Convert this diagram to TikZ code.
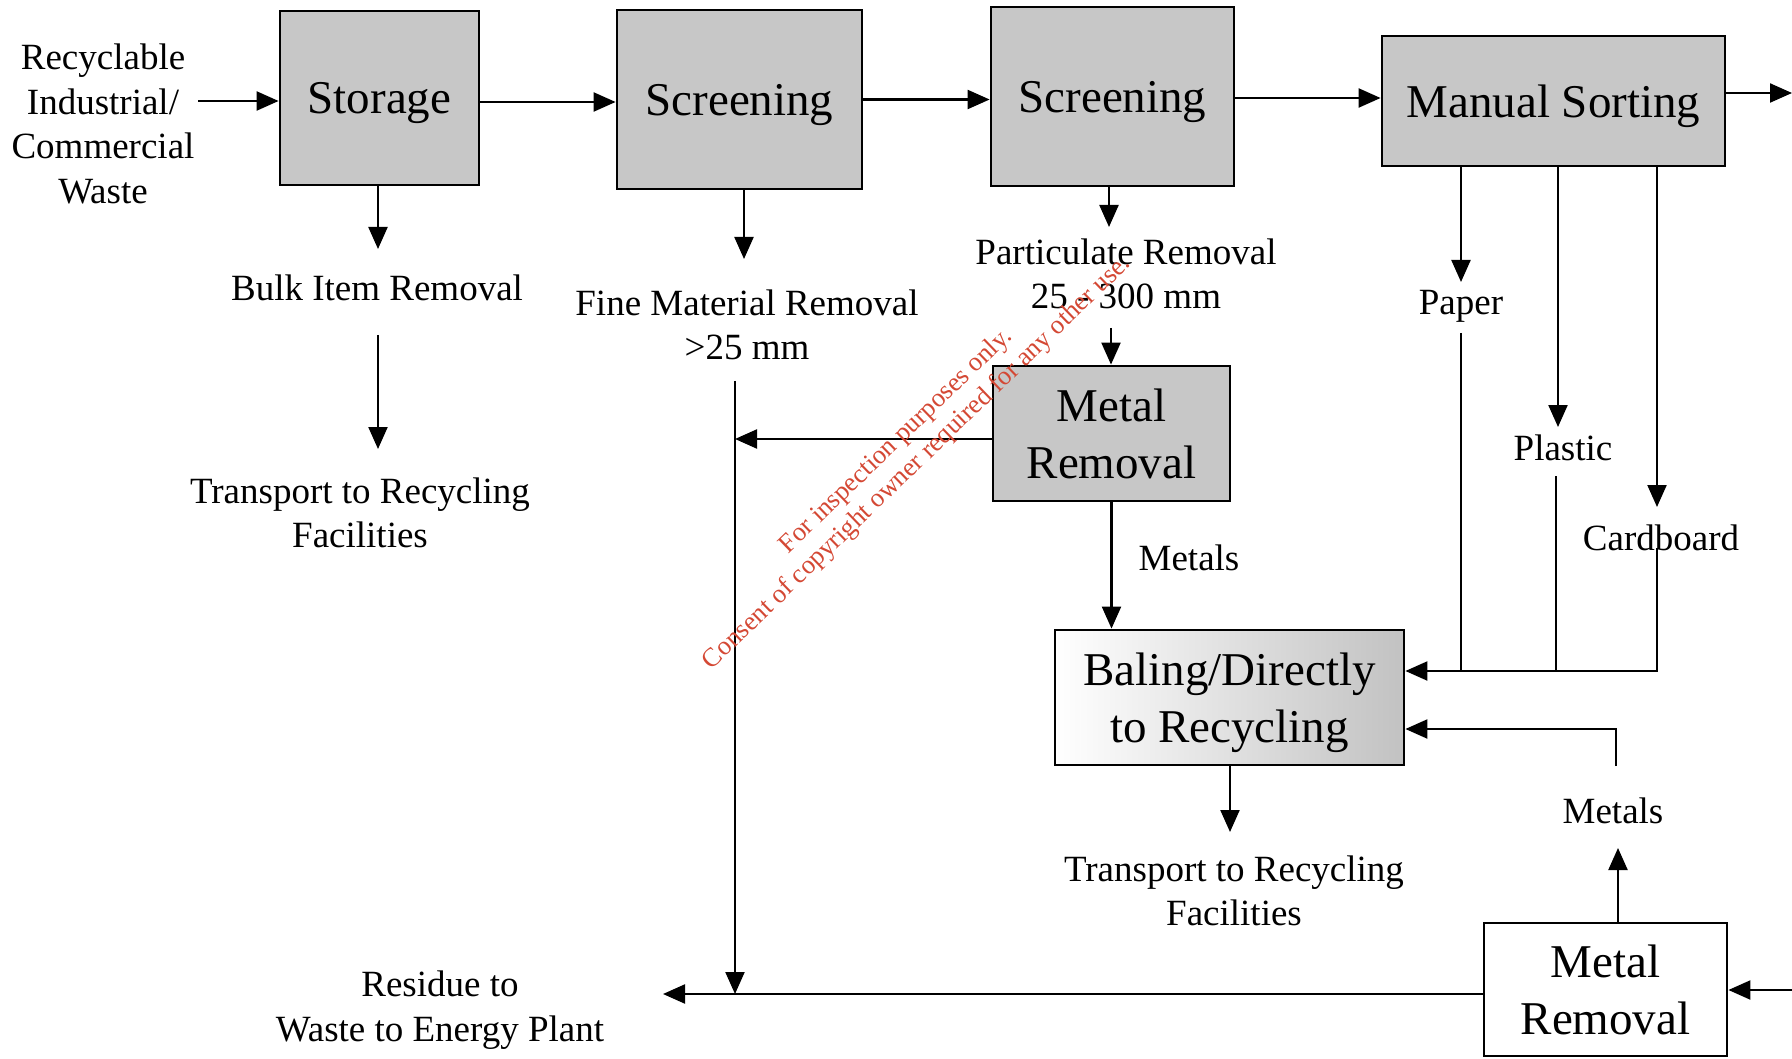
\documentclass[tikz,border=0pt]{standalone}
\usepackage{fontspec}
\setmainfont{Liberation Serif}
\usetikzlibrary{arrows.meta}
\definecolor{wm}{RGB}{212,72,52}
\begin{document}
\begin{tikzpicture}[x=1pt,y=-1pt,
  box/.style={draw,line width=2.8pt,fill=black!22,align=center,inner sep=0pt,text depth=0pt,font=\fontsize{47}{57}\selectfont},
  lbl/.style={align=center,inner sep=0pt,font=\fontsize{37}{44.5}\selectfont},
  arr/.style={line width=2.2pt,-{Triangle[length=22pt,width=19pt]}},
  ln/.style={line width=2.2pt}]
\useasboundingbox (0,0) rectangle (1792,1059);
% boxes
\node[box,minimum width=199pt,minimum height=174pt] (sto) at (379.5,98) {Storage};
\node[box,minimum width=245pt,minimum height=179pt] (scr1) at (739.5,99.5) {Screening};
\node[box,minimum width=243pt,minimum height=179pt] (scr2) at (1112.5,96.5) {Screening};
\node[box,minimum width=343pt,minimum height=130pt] (ms) at (1553.5,101) {Manual Sorting};
\node[box,minimum width=237pt,minimum height=135pt] (mr1) at (1111.5,433.5) {Metal\\Removal};
\node[box,fill=none,left color=white,middle color=white,right color=black!24,minimum width=349pt,minimum height=135pt] (bal) at (1229.5,697.5) {Baling/Directly\\to Recycling};
\node[box,fill=white,minimum width=243pt,minimum height=133pt] (mr2) at (1605.5,989.5) {Metal\\Removal};
% labels
\node[lbl] (src) at (103,124) {Recyclable\\Industrial/\\Commercial\\Waste};
\node[lbl] (bulk) at (377,288) {Bulk Item Removal};
\node[lbl] (tr1) at (360,513) {Transport to Recycling\\Facilities};
\node[lbl] (fine) at (747,325) {Fine Material Removal\\>25 mm};
\node[lbl] (part) at (1126,274) {Particulate Removal\\25 - 300 mm};
\node[lbl] (met1) at (1189,558) {Metals};
\node[lbl] (paper) at (1461,306) {Paper};
\node[lbl] (plastic) at (1563,448) {Plastic};
\node[lbl] (card) at (1661,538) {Cardboard};
\node[lbl] (met2) at (1613,811) {Metals};
\node[lbl] (tr2) at (1234,891) {Transport to Recycling\\Facilities};
\node[lbl] (resid) at (440,1010) {Residue to\\Waste to Energy Plant};
% connectors
\coordinate (inA) at (198,101);
\draw[arr] (inA) -- (inA -| sto.west);
\draw[arr] ([yshift=-4pt]sto.east) -- ([yshift=-4pt]sto.east -| scr1.west);
\draw[arr] (scr1.east) -- (scr1.east -| scr2.west);
\draw[arr] ([yshift=-1.5pt]scr2.east) -- ([yshift=-1.5pt]scr2.east -| ms.west);
\coordinate (outR) at (1792,93);
\draw[arr] (ms.east |- outR) -- (outR);
\coordinate (bulkA) at (378,249);
\draw[arr] (sto.south -| bulkA) -- (bulkA);
\coordinate (bulkB) at (378,335);
\coordinate (trA) at (378,449);
\draw[arr] (bulkB) -- (trA);
\coordinate (fineA) at (744,259);
\draw[arr] (scr1.south -| fineA) -- (fineA);
\coordinate (resA) at (663,994);
\coordinate (vTop) at (735,381);
\draw[arr] (vTop) -- (vTop |- resA);
\draw[arr] ([yshift=-5.5pt]mr1.west) -- ([yshift=-5.5pt]mr1.west -| vTop);
\draw[arr] (mr2.west |- resA) -- (resA);
\coordinate (partA) at (1109,227);
\draw[arr] (scr2.south -| partA) -- (partA);
\coordinate (partB) at (1111,328);
\draw[arr] (partB) -- (partB |- mr1.north);
\draw[arr] (mr1.south) -- (mr1.south |- bal.north);
\coordinate (papA) at (1461,282);
\draw[arr] (ms.south -| papA) -- (papA);
\coordinate (papB) at (1461,333);
\coordinate (join) at (1657,671);
\draw[ln] (papB) -- (papB |- join);
\coordinate (plaA) at (1558,427);
\draw[arr] (ms.south -| plaA) -- (plaA);
\coordinate (plaB) at (1556,476);
\draw[ln] (plaB) -- (plaB |- join);
\coordinate (carA) at (1657,507);
\draw[arr] (ms.south -| carA) -- (carA);
\coordinate (carB) at (1657,548);
\draw[arr] (carB) -- (join) -- (join -| bal.east);
\coordinate (metA) at (1618,848);
\draw[arr] (mr2.north -| metA) -- (metA);
\coordinate (metB) at (1616,766);
\draw[arr] (metB) |- ([yshift=-31.5pt]bal.east);
\coordinate (trB) at (1230,832);
\draw[arr] (bal.south -| trB) -- (trB);
\coordinate (inR) at (1792,990);
\draw[arr] (inR) -- (inR -| mr2.east);
% watermark
\node[text=wm,rotate=44,align=center,inner sep=0pt,font=\fontsize{26.5}{30}\selectfont] (wmk) at (907,452) {For inspection purposes only.\\Consent of copyright owner required for any other use.};
\end{tikzpicture}
\end{document}
